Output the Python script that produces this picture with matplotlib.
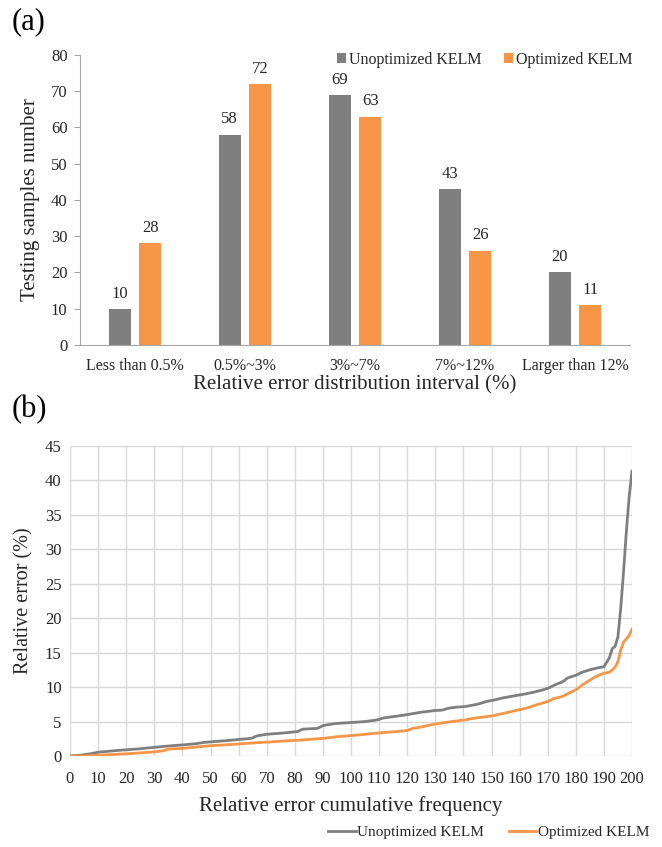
import matplotlib
matplotlib.use("Agg")
import matplotlib.pyplot as plt
import numpy as np

plt.rcParams['font.family'] = ['Liberation Serif', 'DejaVu Serif']

# ---- (a) distribution of relative error ----
intervals = ["Less than 0.5%", "0.5%~3%", "3%~7%", "7%~12%", "Larger than 12%"]
unopt_counts = [10, 58, 69, 43, 20]
opt_counts = [28, 72, 63, 26, 11]

# ---- (b) sorted relative error of every test sample ----
unopt_err = [
    0.00, 0.03, 0.06, 0.10, 0.14, 0.20, 0.25, 0.30, 0.38, 0.45,
    0.55, 0.58, 0.62, 0.66, 0.70, 0.75, 0.78, 0.81, 0.84, 0.87,
    0.90, 0.92, 0.95, 0.98, 1.01, 1.05, 1.10, 1.14, 1.18, 1.21,
    1.25, 1.29, 1.33, 1.37, 1.41, 1.45, 1.48, 1.52, 1.55, 1.58,
    1.60, 1.64, 1.68, 1.72, 1.76, 1.80, 1.86, 1.92, 1.98, 2.02,
    2.05, 2.08, 2.11, 2.14, 2.17, 2.20, 2.24, 2.28, 2.33, 2.37,
    2.40, 2.43, 2.46, 2.50, 2.55, 2.62, 2.85, 2.95, 3.02, 3.08,
    3.15, 3.18, 3.21, 3.24, 3.27, 3.30, 3.34, 3.38, 3.42, 3.46,
    3.50, 3.55, 3.75, 3.90, 3.92, 3.94, 3.96, 3.98, 4.00, 4.20,
    4.40, 4.48, 4.55, 4.62, 4.68, 4.72, 4.75, 4.78, 4.81, 4.83,
    4.85, 4.88, 4.91, 4.94, 4.97, 5.00, 5.05, 5.10, 5.15, 5.22,
    5.30, 5.45, 5.55, 5.60, 5.65, 5.70, 5.76, 5.82, 5.88, 5.94,
    6.00, 6.08, 6.15, 6.22, 6.28, 6.35, 6.40, 6.45, 6.50, 6.55,
    6.60, 6.62, 6.64, 6.70, 6.85, 6.95, 7.00, 7.05, 7.10, 7.12,
    7.15, 7.20, 7.28, 7.36, 7.43, 7.50, 7.62, 7.75, 7.88, 7.97,
    8.05, 8.12, 8.22, 8.32, 8.42, 8.50, 8.57, 8.64, 8.71, 8.78,
    8.85, 8.92, 9.00, 9.08, 9.16, 9.25, 9.35, 9.45, 9.56, 9.68,
    9.80, 9.98, 10.20, 10.40, 10.55, 10.70, 10.95, 11.30, 11.45, 11.58,
    11.70, 11.90, 12.10, 12.25, 12.38, 12.50, 12.60, 12.70, 12.80, 12.88,
    12.95, 13.60, 14.30, 15.60, 15.90, 17.30, 21.50, 26.80, 32.60, 37.60,
    41.30,
]
opt_err = [
    0.00, 0.00, 0.00, 0.01, 0.01, 0.02, 0.03, 0.05, 0.07, 0.09,
    0.10, 0.12, 0.14, 0.16, 0.18, 0.20, 0.22, 0.24, 0.26, 0.28,
    0.30, 0.33, 0.36, 0.39, 0.42, 0.45, 0.48, 0.51, 0.54, 0.57,
    0.60, 0.65, 0.70, 0.75, 0.88, 1.00, 1.02, 1.04, 1.06, 1.08,
    1.10, 1.14, 1.18, 1.22, 1.26, 1.30, 1.34, 1.38, 1.42, 1.46,
    1.50, 1.52, 1.54, 1.56, 1.58, 1.60, 1.63, 1.66, 1.69, 1.72,
    1.75, 1.78, 1.81, 1.84, 1.87, 1.90, 1.92, 1.94, 1.96, 1.98,
    2.00, 2.03, 2.06, 2.09, 2.12, 2.15, 2.17, 2.19, 2.21, 2.23,
    2.25, 2.28, 2.31, 2.34, 2.37, 2.40, 2.43, 2.46, 2.49, 2.52,
    2.55, 2.60, 2.65, 2.70, 2.75, 2.80, 2.83, 2.86, 2.89, 2.92,
    2.95, 2.99, 3.03, 3.07, 3.11, 3.15, 3.19, 3.23, 3.27, 3.31,
    3.35, 3.38, 3.41, 3.44, 3.47, 3.50, 3.54, 3.58, 3.62, 3.66,
    3.70, 3.85, 4.00, 4.07, 4.14, 4.20, 4.30, 4.40, 4.48, 4.56,
    4.65, 4.71, 4.77, 4.83, 4.89, 4.95, 5.00, 5.05, 5.10, 5.15,
    5.20, 5.27, 5.34, 5.41, 5.48, 5.55, 5.60, 5.65, 5.70, 5.75,
    5.80, 5.89, 5.98, 6.07, 6.16, 6.25, 6.34, 6.43, 6.52, 6.61,
    6.70, 6.80, 6.90, 7.00, 7.15, 7.30, 7.42, 7.54, 7.66, 7.78,
    7.90, 8.10, 8.30, 8.40, 8.50, 8.60, 8.80, 9.00, 9.20, 9.40,
    9.60, 9.90, 10.20, 10.50, 10.75, 11.00, 11.25, 11.50, 11.67, 11.84,
    12.00, 12.08, 12.15, 12.50, 12.90, 13.70, 15.40, 16.50, 17.00, 17.50,
    18.40,
]

gray = "#7f7f7f"
orange = "#f79646"
txt = "#262626"

fig = plt.figure(figsize=(6.62, 8.47), dpi=100)

#------------------------------- (a) bar chart -------------------------------
ax1 = fig.add_axes([80/662, 1 - 345/847, 550/662, 290/847])
x = np.arange(len(intervals))
w = 0.2
b1 = ax1.bar(x - 0.14, unopt_counts, w, color=gray, label="Unoptimized KELM")
b2 = ax1.bar(x + 0.14, opt_counts, w, color=orange, label="Optimized KELM")
for bars, vals in ((b1, unopt_counts), (b2, opt_counts)):
    for r, v in zip(bars, vals):
        ax1.text(r.get_x() + r.get_width()/2, v + 2, str(v), ha="center", va="bottom",
                 fontsize=12, color=txt)
ax1.set_xlim(-0.5, len(intervals) - 0.5)
ax1.set_ylim(0, 80)
ax1.set_yticks(range(0, 81, 10))
ax1.set_xticks(x)
ax1.set_xticklabels(intervals)
ax1.tick_params(axis="y", length=4, color="#a6a6a6", labelsize=12, labelcolor=txt, pad=5)
ax1.tick_params(axis="x", length=0, labelsize=11.5, labelcolor=txt, pad=9)
for s in ("top", "right"):
    ax1.spines[s].set_visible(False)
for s in ("left", "bottom"):
    ax1.spines[s].set_color("#a6a6a6")
ax1.set_ylabel("Testing samples number", fontsize=15, color=txt, labelpad=8)
ax1.set_xlabel("Relative error distribution interval (%)", fontsize=15, color=txt, labelpad=1)
ax1.legend(loc="upper right", bbox_to_anchor=(1.03, 1.06), ncol=2, frameon=False,
           fontsize=11.5, handlelength=0.6, handleheight=0.6, handletextpad=0.15,
           columnspacing=1.4, labelcolor=txt)
fig.text(12/662, 1 - 22/847, "(a)", fontsize=22, va="center", ha="left", color="black")

#------------------------------- (b) line chart ------------------------------
ax2 = fig.add_axes([70/662, 1 - 756/847, 562/662, 310.3/847])
n = np.arange(len(unopt_err))
ax2.plot(n, unopt_err, color=gray, lw=2.0, label="Unoptimized KELM", zorder=3)
ax2.plot(n, opt_err, color=orange, lw=2.0, label="Optimized KELM", zorder=3)
ax2.set_xlim(0, 200)
ax2.set_ylim(0, 45)
ax2.set_xticks(range(0, 201, 10))
ax2.set_yticks(range(0, 46, 5))
ax2.grid(True, color="#d9d9d9", lw=1.0)
ax2.set_axisbelow(True)
for s in ax2.spines.values():
    s.set_visible(False)
ax2.tick_params(length=0, labelsize=12, labelcolor=txt)
ax2.tick_params(axis="x", pad=11)
ax2.tick_params(axis="y", pad=6)
ax2.set_xlabel("Relative error cumulative frequency", fontsize=15, color=txt, labelpad=6)
ax2.set_ylabel("Relative error (%)", fontsize=14.5, color=txt, labelpad=8)
ax2.legend(loc="upper right", bbox_to_anchor=(1.055, -0.18), ncol=2, frameon=False,
           fontsize=11, handlelength=1.8, handletextpad=0.1, columnspacing=1.6,
           labelcolor=txt)
fig.text(12/662, 1 - 410/847, "(b)", fontsize=22, va="center", ha="left", color="black")

fig.savefig("out.png", dpi=100)
